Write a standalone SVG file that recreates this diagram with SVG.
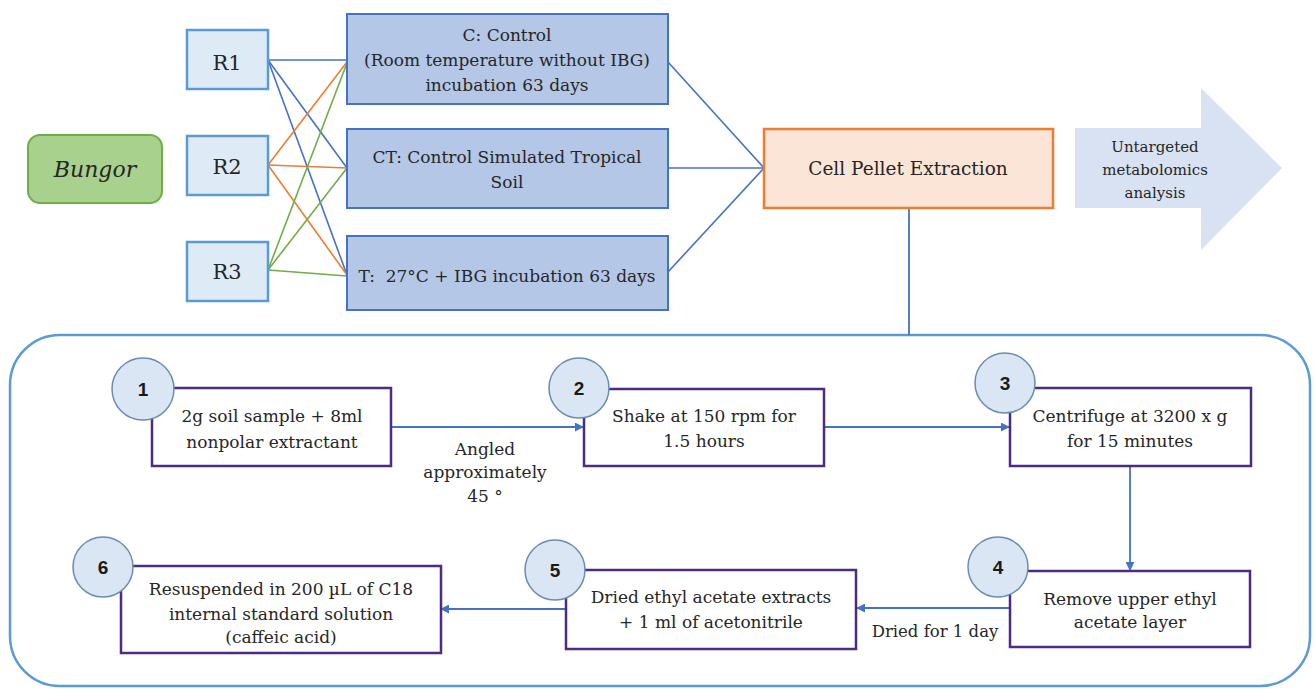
<svg xmlns="http://www.w3.org/2000/svg" width="1315" height="689" viewBox="0 0 1315 689">
<defs>
<style>
text{font-family:"DejaVu Serif","Liberation Serif",serif;fill:#262626;font-size:17px;text-anchor:middle}
.rbox{fill:#deebf7;stroke:#5b9bd5;stroke-width:2.5}
.mbox{fill:#b4c7e7;stroke:#4472c4;stroke-width:2}
.step{fill:#ffffff;stroke:#4b2a88;stroke-width:2.5}
.circ{fill:#dbe6f4;stroke:#6a8bb3;stroke-width:1.5}
.num{font-family:"Liberation Sans",Arial,sans-serif;font-weight:bold;font-size:19px;fill:#1a1a1a}
.rl{font-size:21px}
.b{stroke:#4472c4;stroke-width:1.6;fill:none}
.o{stroke:#ed7d31;stroke-width:1.6;fill:none}
.g{stroke:#70ad47;stroke-width:1.6;fill:none}
.fl{stroke:#4472c4;stroke-width:1.8;fill:none}
</style>
<marker id="ah" viewBox="0 0 10 10" refX="9" refY="5" markerWidth="9" markerHeight="9" markerUnits="userSpaceOnUse" orient="auto">
<path d="M0,0 L10,5 L0,10 z" fill="#4472c4"/>
</marker>
</defs>
<rect width="1315" height="689" fill="#ffffff"/>

<g id="container">
<rect x="10" y="335" width="1300" height="351" rx="50" ry="50" fill="#ffffff" stroke="#5b9bd5" stroke-width="2.5"/>
</g>

<g id="connectors">
<line class="b" x1="268" y1="60" x2="347" y2="60"/>
<line class="b" x1="268" y1="60" x2="347" y2="168"/>
<line class="b" x1="268" y1="60" x2="347" y2="275"/>
<line class="o" x1="268" y1="165" x2="347" y2="62"/>
<line class="o" x1="268" y1="165" x2="347" y2="168"/>
<line class="o" x1="268" y1="165" x2="347" y2="275"/>
<line class="g" x1="268" y1="270" x2="347" y2="63"/>
<line class="g" x1="268" y1="270" x2="347" y2="168"/>
<line class="g" x1="268" y1="270" x2="347" y2="276"/>
<line class="b" x1="668" y1="62" x2="764" y2="168"/>
<line class="b" x1="668" y1="168" x2="764" y2="168"/>
<line class="b" x1="668" y1="272" x2="764" y2="168"/>
<line class="fl" x1="909" y1="208" x2="909" y2="335" stroke-width="2.2"/>
<line class="fl" x1="391" y1="427" x2="583" y2="427" marker-end="url(#ah)"/>
<line class="fl" x1="824" y1="427" x2="1009" y2="427" marker-end="url(#ah)"/>
<line class="fl" x1="1130" y1="466" x2="1130" y2="570" marker-end="url(#ah)"/>
<line class="fl" x1="1010" y1="608" x2="857" y2="608" marker-end="url(#ah)"/>
<line class="fl" x1="566" y1="609" x2="441" y2="609" marker-end="url(#ah)"/>
<text x="485" y="455">Angled</text>
<text x="485" y="478">approximately</text>
<text x="485" y="502">45 °</text>
<text x="935" y="637" style="font-size:16.5px">Dried for 1 day</text>
</g>

<g id="bungor">
<rect x="28" y="135" width="134" height="68" rx="12" ry="12" fill="#a9d18e" stroke="#70ad47" stroke-width="2"/>
<text x="95" y="177" style="font-size:22px;font-style:italic">Bungor</text>
</g>

<g id="r1"><rect class="rbox" x="187" y="30" width="81" height="59"/><text class="rl" x="227" y="70">R1</text></g>
<g id="r2"><rect class="rbox" x="187" y="136" width="81" height="59"/><text class="rl" x="227" y="174">R2</text></g>
<g id="r3"><rect class="rbox" x="187" y="242" width="81" height="59"/><text class="rl" x="227" y="279">R3</text></g>

<g id="c-control">
<rect class="mbox" x="347" y="14" width="321" height="90"/>
<text x="507" y="41">C: Control</text>
<text x="507" y="66">(Room temperature without IBG)</text>
<text x="507" y="91">incubation 63 days</text>
</g>
<g id="ct-control">
<rect class="mbox" x="347" y="129" width="321" height="79"/>
<text x="507" y="163">CT: Control Simulated Tropical</text>
<text x="507" y="188">Soil</text>
</g>
<g id="t-treatment">
<rect class="mbox" x="347" y="236" width="321" height="74"/>
<text x="507" y="282" xml:space="preserve">T:  27°C + IBG incubation 63 days</text>
</g>

<g id="cell-pellet">
<rect x="764" y="129" width="289" height="79" fill="#fbe5d6" stroke="#ed7d31" stroke-width="2.5"/>
<text x="908" y="175" style="font-size:18.5px">Cell Pellet Extraction</text>
</g>

<g id="untargeted">
<path d="M1075,128 L1201,128 L1201,88 L1282,168 L1201,250 L1201,208 L1075,208 Z" fill="#d9e2f3"/>
<text x="1155" y="152" style="font-size:15px">Untargeted</text>
<text x="1155" y="175" style="font-size:15px">metabolomics</text>
<text x="1155" y="198" style="font-size:15px">analysis</text>
</g>

<g id="step1">
<rect class="step" x="152" y="388" width="239" height="78"/>
<text x="272" y="422">2g soil sample + 8ml</text>
<text x="272" y="448">nonpolar extractant</text>
<circle class="circ" cx="143" cy="389" r="31"/>
<text class="num" x="143" y="396">1</text>
</g>
<g id="step2">
<rect class="step" x="584" y="389" width="240" height="77"/>
<text x="704" y="422">Shake at 150 rpm for</text>
<text x="704" y="447">1.5 hours</text>
<circle class="circ" cx="579" cy="388" r="30"/>
<text class="num" x="579" y="395">2</text>
</g>
<g id="step3">
<rect class="step" x="1010" y="388" width="241" height="78"/>
<text x="1130" y="422">Centrifuge at 3200 x g</text>
<text x="1130" y="447">for 15 minutes</text>
<circle class="circ" cx="1005" cy="383" r="30"/>
<text class="num" x="1005" y="390">3</text>
</g>
<g id="step4">
<rect class="step" x="1010" y="571" width="240" height="76"/>
<text x="1130" y="605">Remove upper ethyl</text>
<text x="1130" y="628">acetate layer</text>
<circle class="circ" cx="998" cy="567" r="30"/>
<text class="num" x="998" y="574">4</text>
</g>
<g id="step5">
<rect class="step" x="566" y="570" width="290" height="79"/>
<text x="711" y="603">Dried ethyl acetate extracts</text>
<text x="711" y="628">+ 1 ml of acetonitrile</text>
<circle class="circ" cx="555" cy="570" r="30"/>
<text class="num" x="555" y="577">5</text>
</g>
<g id="step6">
<rect class="step" x="121" y="566" width="320" height="87"/>
<text x="281" y="595">Resuspended in 200 µL of C18</text>
<text x="281" y="620">internal standard solution</text>
<text x="281" y="643">(caffeic acid)</text>
<circle class="circ" cx="103" cy="567" r="30"/>
<text class="num" x="103" y="574">6</text>
</g>
</svg>
